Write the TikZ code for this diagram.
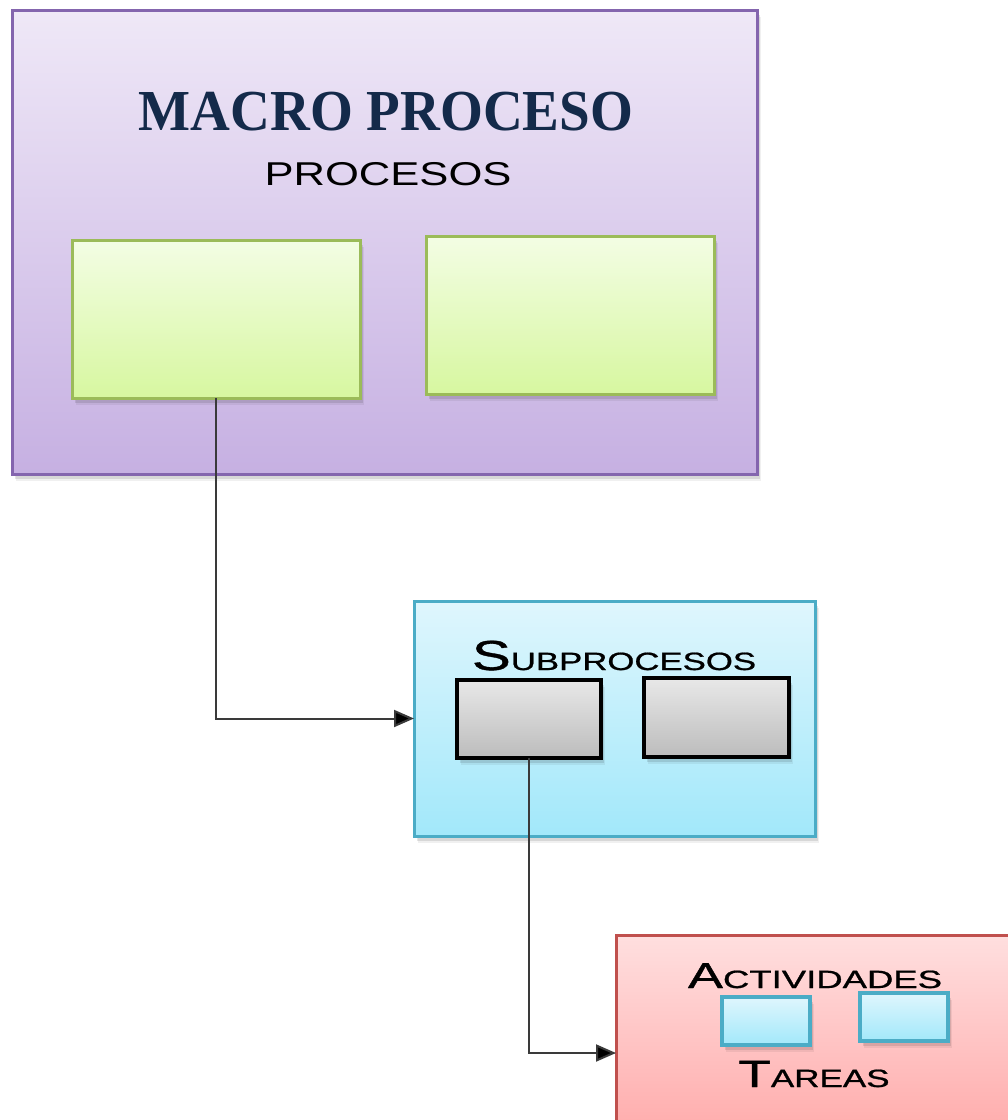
\documentclass[tikz,border=0pt]{standalone}
\usepackage{fontspec}
\setmainfont{Liberation Serif}
\newfontfamily\capsfont[FakeBold=0.8]{Liberation Sans}
\newfontfamily\lightcaps{Liberation Sans}
\usetikzlibrary{shadows,arrows.meta}

\definecolor{purpleTop}{HTML}{EFE8F7}
\definecolor{purpleBot}{HTML}{C6B0E2}
\definecolor{purpleLine}{HTML}{8465AE}
\definecolor{greenTop}{HTML}{F3FDE4}
\definecolor{greenBot}{HTML}{D7F7A0}
\definecolor{greenLine}{HTML}{9BBB59}
\definecolor{cyanTop}{HTML}{DFF6FD}
\definecolor{cyanBot}{HTML}{A2E8FA}
\definecolor{cyanLine}{HTML}{4BACC6}
\definecolor{grayTop}{HTML}{E8E8E8}
\definecolor{grayBot}{HTML}{BCBCBC}
\definecolor{redTop}{HTML}{FFDFDF}
\definecolor{redBot}{HTML}{FFA2A2}
\definecolor{redLine}{HTML}{C0504D}
\definecolor{titleNavy}{HTML}{142A4A}
\definecolor{connGray}{HTML}{3A3A3A}

\tikzset{
  softshadow/.style={
    drop shadow={shadow xshift=1pt, shadow yshift=-2pt, fill=black, opacity=0.14},
    drop shadow={shadow xshift=3pt, shadow yshift=-5pt, fill=black, opacity=0.10},
    drop shadow={shadow xshift=4pt, shadow yshift=-7pt, fill=black, opacity=0.06}},
  panel/.style={rectangle, inner sep=0pt, outer sep=0pt, anchor=north west, softshadow},
  macrobox/.style={panel, draw=purpleLine, line width=3pt,
    top color=purpleTop, bottom color=purpleBot},
  procbox/.style={panel, draw=greenLine, line width=3pt,
    top color=greenTop, bottom color=greenBot},
  subbox/.style={panel, draw=cyanLine, line width=3pt,
    top color=cyanTop, bottom color=cyanBot},
  graybox/.style={panel, draw=black, line width=3.6pt,
    top color=grayTop, bottom color=grayBot},
  actbox/.style={panel, draw=redLine, line width=3pt,
    top color=redTop, bottom color=redBot},
  taskbox/.style={panel, draw=cyanLine, line width=3.4pt,
    top color=cyanTop, bottom color=cyanBot},
  label/.style={anchor=base, inner sep=0pt, text=black},
  conn/.style={draw=connGray, line width=2pt,
    -{Triangle[length=20pt,width=17pt,fill=black]}},
}

% one run of capitals at a given size
\newcommand{\capsize}[2]{{\fontsize{#1}{#1}\selectfont #2}}

\begin{document}
\begin{tikzpicture}[x=1pt,y=-1pt]
\useasboundingbox (0,0) rectangle (1008,1120);
\fill[white] (0,0) rectangle (1008,1120);
\begin{scope}
\clip (0,0) rectangle (1008,1120);

% macro process panel with its two processes
\node[macrobox, minimum width=745pt, minimum height=464pt] (macro) at (12,10) {};
\node[label, text=titleNavy] (title) at (386,130)
  {\scalebox{0.95}[1]{\fontsize{58}{58}\selectfont\bfseries MACRO PROCESO}};
\node[label] (procs) at (388,185)
  {\scalebox{1.32}[1]{\lightcaps\fontsize{33}{33}\selectfont PROCESOS}};
\node[procbox, minimum width=288pt, minimum height=158pt] (p1) at (72,240) {};
\node[procbox, minimum width=288pt, minimum height=158pt] (p2) at (426,236) {};

% subprocess panel
\node[subbox, minimum width=401pt, minimum height=235pt] (sub) at (414,601) {};
\node[label] (subtitle) at (614,670)
  {\scalebox{1.39}[1]{\capsfont\capsize{42}{S}\capsize{25}{UBPROCESOS}}};
\node[graybox, minimum width=144pt, minimum height=78pt] (s1) at (457,680) {};
\node[graybox, minimum width=145pt, minimum height=79pt] (s2) at (644,678) {};

% activity panel
\node[actbox, minimum width=410pt, minimum height=236pt] (act) at (616,935) {};
\node[label] (acttitle) at (815,988)
  {\scalebox{1.46}[1]{\capsfont\capsize{36}{A}\capsize{25}{CTIVIDADES}}};
\node[taskbox, minimum width=88pt, minimum height=48pt] (t1) at (722,997) {};
\node[taskbox, minimum width=88pt, minimum height=48pt] (t2) at (860,993) {};
\node[label] (tasktitle) at (814,1087)
  {\scalebox{1.40}[1]{\capsfont\capsize{38}{T}\capsize{25}{AREAS}}};

% connectors
\draw[conn] (p1.south) |- (sub.west);
\draw[conn] (s1.south) |- (act.west);
\end{scope}
\end{tikzpicture}
\end{document}
